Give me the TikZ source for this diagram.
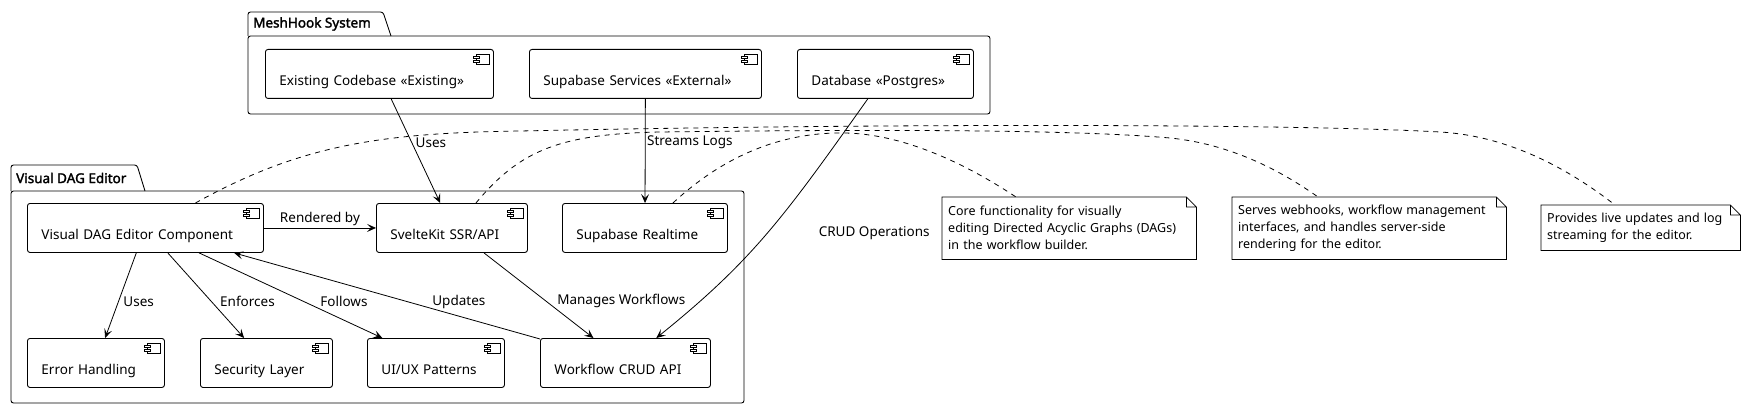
\documentclass[tikz,border=0pt]{standalone}
\usepackage{fontspec}
\setmainfont{Noto Sans}
\newfontfamily\pkgfont{Noto Sans}[FakeBold=2]
\usetikzlibrary{arrows.meta}

\tikzset{
  comp/.style={draw,line width=.9pt,rounded corners=2.5pt,anchor=north west,
    inner xsep=14pt,inner ysep=0pt,text height=36pt,text depth=13pt,align=left,
    font=\fontsize{13.5}{16}\selectfont},
  notebox/.style={anchor=north west,inner xsep=6pt,inner ysep=0pt,align=left,
    font=\fontsize{12.5}{17}\selectfont},
  pkgtitle/.style={anchor=west,inner sep=0pt,font=\pkgfont\fontsize{13.5}{16}\selectfont},
  lbl/.style={inner sep=1.5pt,font=\fontsize{13.5}{16}\selectfont},
  arr/.style={line width=.8pt,-{Stealth[length=9pt,width=8pt,inset=4pt]}},
  notelink/.style={draw,line width=.8pt,dash pattern=on 5pt off 5pt}
}

\begin{document}
\begin{tikzpicture}[x=1pt,y=-1pt]
  \useasboundingbox (0,0) rectangle (1747,409);

  % packages
  \draw[line width=.9pt,rounded corners=2.5pt] (248,36) -- (248,12) -- (383,12) -- (391,36);
  \draw[line width=.9pt,rounded corners=2.5pt] (248,36) rectangle (990,114);
  \node[pkgtitle] (mh) at (253,24) {MeshHook System};

  \draw[line width=.9pt,rounded corners=2.5pt] (11,191) -- (11,165) -- (137,165) -- (145,191);
  \draw[line width=.9pt,rounded corners=2.5pt] (11,191) rectangle (744,403);
  \node[pkgtitle] (vdp) at (16,178) {Visual DAG Editor};

  \begin{scope}[every node/.style={comp}]
    \node[text width=200pt] (ec)  at (265,49)  {Existing Codebase «Existing»};
    \node[text width=204pt] (ss)  at (529,49)  {Supabase Services «External»};
    \node[text width=148pt] (db)  at (797,49)  {Database «Postgres»};
    \node[text width=208pt] (vde) at (27,203)  {Visual DAG Editor Component};
    \node[text width=123pt] (sk)  at (376,203) {SvelteKit SSR/API};
    \node[text width=137pt] (sr)  at (562,203) {Supabase Realtime};
    \node[text width=109pt] (eh)  at (27,338)  {Error Handling};
    \node[text width=104pt] (sl)  at (200,338) {Security Layer};
    \node[text width=109pt] (ux)  at (367,338) {UI/UX Patterns};
    \node[text width=142pt] (wf)  at (540,338) {Workflow CRUD API};
  \end{scope}

  % component icons
  \foreach \c in {ec,ss,db,vde,sk,sr,eh,sl,ux,wf} {
    \draw[line width=.7pt] ([xshift=-18pt,yshift=-5pt]\c.north east) rectangle ([xshift=-5pt,yshift=-15pt]\c.north east);
    \draw[line width=.7pt,fill=white] ([xshift=-21pt,yshift=-7pt]\c.north east) rectangle ([xshift=-15pt,yshift=-9.5pt]\c.north east);
    \draw[line width=.7pt,fill=white] ([xshift=-21pt,yshift=-11pt]\c.north east) rectangle ([xshift=-15pt,yshift=-13.5pt]\c.north east);
  }

  \begin{scope}[every node/.style={notebox}]
    \node[text width=242pt,minimum height=62pt] (n1) at (942,197)
      {Core functionality for visually\\editing Directed Acyclic Graphs (DAGs)\\in the workflow builder.};
    \node[text width=262pt,minimum height=62pt] (n2) at (1232,197)
      {Serves webhooks, workflow management\\interfaces, and handles server-side\\rendering for the editor.};
    \node[text width=187pt,minimum height=45pt] (n3) at (1541,205)
      {Provides live updates and log\\streaming for the editor.};
  \end{scope}

  % note outlines
  \foreach \n in {n1,n2,n3}
    \draw[line width=.8pt] (\n.north west) -- ([xshift=-10pt]\n.north east) -- ([yshift=-10pt]\n.north east)
      -- (\n.south east) -- (\n.south west) -- cycle
      ([xshift=-10pt]\n.north east) |- ([yshift=-10pt]\n.north east);

  % note links
  \draw[notelink] ([xshift=50pt]vde.north) .. controls (300,145) and (380,133) .. (520,131)
    .. controls (900,123) and (1300,124) .. (1440,132)
    .. controls (1510,136) and (1570,170) .. ([xshift=74pt]n3.north west);
  \draw[notelink] ([xshift=24pt]sk.north) .. controls (520,150) and (560,134) .. (660,132)
    .. controls (900,129) and (1080,130) .. (1170,138)
    .. controls (1230,144) and (1280,170) .. ([xshift=86pt]n2.north west);
  \draw[notelink] ([xshift=28pt]sr.north) .. controls (730,150) and (790,132) .. (845,133)
    .. controls (900,134) and (960,160) .. ([xshift=74pt]n1.north west);

  % connectors
  \begin{scope}[every node/.style={lbl}]
    \path[arr] (ec)  edge node[pos=.42,anchor=west,xshift=2pt] {Uses} (sk);
    \path[arr] (ss)  edge node[pos=.42,anchor=west] {Streams Logs} (sr);
    \path[arr] (vde) edge node[midway,anchor=south] {Rendered by} (sk);
    \path[arr] (vde) edge node[pos=.57,anchor=west,xshift=3pt] {Uses} (eh);
    \path[arr] (vde) edge node[pos=.57,anchor=west,xshift=7pt] {Enforces} (sl);
    \path[arr] (vde) edge node[pos=.57,anchor=west,xshift=15pt] {Follows} (ux);
    \path[arr] (wf)  edge node[pos=.43,anchor=west,xshift=22pt] {Updates} (vde);
    \path[arr] (sk)  edge node[pos=.57,anchor=west,xshift=9pt] {Manages Workflows} (wf);
    \draw[arr] (db) .. controls (784,217) and (753,260) .. (wf)
      node[pos=.5,anchor=west,xshift=50pt] {CRUD Operations};
  \end{scope}

\end{tikzpicture}
\end{document}
